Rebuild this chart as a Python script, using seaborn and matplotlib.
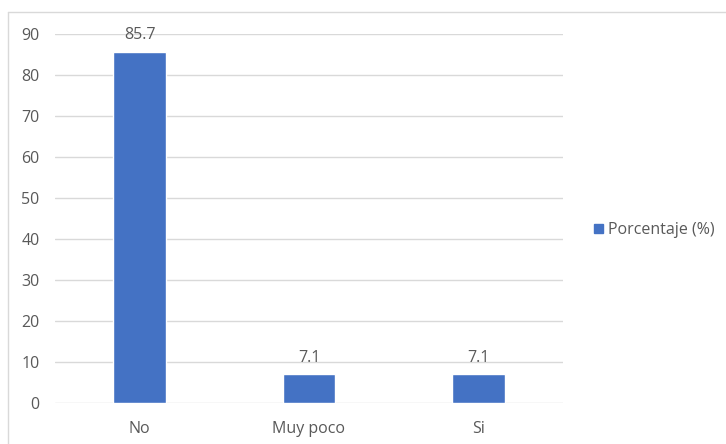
import matplotlib
matplotlib.use("Agg")
import matplotlib.pyplot as plt
import matplotlib.patches as mpatches
from matplotlib.lines import Line2D
import seaborn as sns
import pandas as pd

categorias = ["No", "Muy poco", "Si"]
porcentajes = [85.7, 7.1, 7.1]
serie = "Porcentaje (%)"
ticks_y = [0, 10, 20, 30, 40, 50, 60, 70, 80, 90]

sns.set_theme(style="white")
plt.rcParams["font.family"] = ["Open Sans", "DejaVu Sans"]

df = pd.DataFrame({"categoria": categorias, "valor": porcentajes})

W, H = 726, 444
fig = plt.figure(figsize=(W / 100, H / 100), dpi=100)
ax = fig.add_axes([55 / W, 1 - 403 / H, (563 - 55) / W, (403 - 34) / H])

azul = "#4472C4"
gris_txt = "#595959"
fs = 11.5
sns.barplot(data=df, x="categoria", y="valor", color=azul, width=0.31,
            saturation=1, ax=ax, zorder=3)

ax.set_ylim(0, 90)
ax.set_yticks(ticks_y)
ax.set_xlim(-0.5, 2.5)
ax.grid(axis="y", color="#d9d9d9", linewidth=1, zorder=0)
ax.set_axisbelow(True)
for s in ax.spines.values():
    s.set_visible(False)
ax.set_xlabel("")
ax.set_ylabel("")
ax.tick_params(axis="both", length=0, labelsize=fs, labelcolor=gris_txt)
ax.tick_params(axis="y", pad=11)
ax.tick_params(axis="x", pad=13)

for i, v in enumerate(porcentajes):
    ax.text(i, v + 2.0, f"{v:.1f}", ha="center", va="bottom",
            fontsize=fs, color=gris_txt)

handle = mpatches.Patch(color=azul, label=serie)
fig.legend(handles=[handle], loc="center left",
           bbox_to_anchor=(594 / W, 1 - 230 / H), frameon=False,
           fontsize=fs, labelcolor=gris_txt, handlelength=0.55,
           handleheight=0.55, handletextpad=0.3, borderpad=0,
           borderaxespad=0)

# chart frame
fig.add_artist(Line2D([8 / W, 8 / W], [0, 1 - 12 / H],
                      transform=fig.transFigure, color="#d9d9d9", lw=1))
fig.add_artist(Line2D([8 / W, 1], [1 - 12 / H, 1 - 12 / H],
                      transform=fig.transFigure, color="#d9d9d9", lw=1))

fig.savefig("out.png", dpi=100)
